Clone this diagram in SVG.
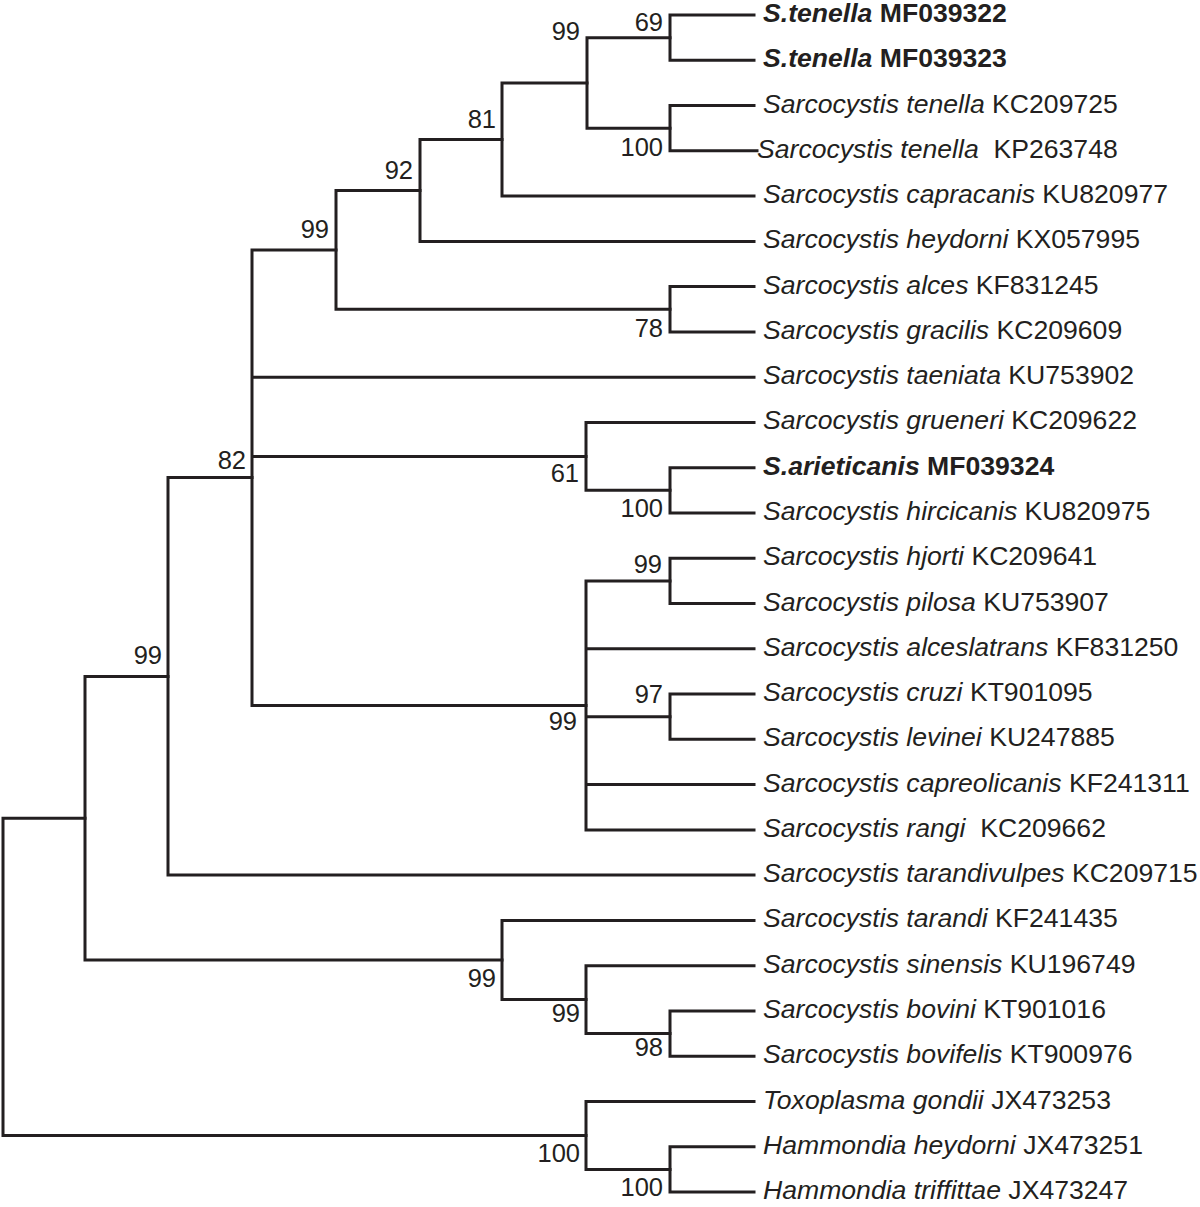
<svg xmlns="http://www.w3.org/2000/svg" width="1200" height="1207" viewBox="0 0 1200 1207">
<style>
.e{fill:none;stroke:#231f20;stroke-width:3;stroke-linecap:square;stroke-linejoin:miter}
.t{font-family:"Liberation Sans",Arial,sans-serif;font-size:26.6px;fill:#231f20}
.i{font-style:italic}
.b{font-weight:bold}
.n{font-family:"Liberation Sans",Arial,sans-serif;font-size:25.5px;fill:#231f20;text-anchor:end}
</style>
<rect width="1200" height="1207" fill="#ffffff"/>
<g id="connectors">
<path class="e" d="M754,15 H670 V60.3 H754"/>
<path class="e" d="M754,105.5 H670 V150.8 H757"/>
<path class="e" d="M670,37.7 H587 V128.2 H670"/>
<path class="e" d="M587,83 H502 V196.1 H754"/>
<path class="e" d="M502,139.5 H420 V241.4 H754"/>
<path class="e" d="M754,286.6 H670 V331.9 H754"/>
<path class="e" d="M420,190.5 H336 V309.3 H670"/>
<path class="e" d="M754,467.7 H670 V513 H754"/>
<path class="e" d="M754,422.4 H586 V490.3 H670"/>
<path class="e" d="M754,558.2 H670 V603.5 H754"/>
<path class="e" d="M754,694.1 H670 V739.3 H754"/>
<path class="e" d="M670,580.9 H586 V829.9 H754 M586,648.8 H754 M586,716.7 H670 M586,784.6 H754"/>
<path class="e" d="M336,249.9 H252 V705.4 H586 M252,377.2 H754 M252,456.4 H586"/>
<path class="e" d="M252,477.6 H168 V875.1 H754"/>
<path class="e" d="M754,1010.9 H670 V1056.2 H754"/>
<path class="e" d="M754,965.7 H586 V1033.6 H670"/>
<path class="e" d="M754,920.4 H502 V999.6 H586"/>
<path class="e" d="M168,676.4 H85 V960 H502"/>
<path class="e" d="M754,1146.8 H670 V1192 H754"/>
<path class="e" d="M754,1101.5 H586 V1169.4 H670"/>
<path class="e" d="M85,818.2 H3 V1135.4 H586"/>
</g>
<g id="support">
<text class="n" x="663" y="31">69</text>
<text class="n" x="580" y="40">99</text>
<text class="n" x="663" y="156">100</text>
<text class="n" x="496" y="128">81</text>
<text class="n" x="413" y="179">92</text>
<text class="n" x="329" y="238">99</text>
<text class="n" x="663" y="337">78</text>
<text class="n" x="246" y="469">82</text>
<text class="n" x="579" y="482">61</text>
<text class="n" x="663" y="517">100</text>
<text class="n" x="662" y="573">99</text>
<text class="n" x="663" y="703">97</text>
<text class="n" x="577" y="730">99</text>
<text class="n" x="162" y="664">99</text>
<text class="n" x="496" y="987">99</text>
<text class="n" x="580" y="1022">99</text>
<text class="n" x="663" y="1056">98</text>
<text class="n" x="580" y="1162">100</text>
<text class="n" x="663" y="1196">100</text>
</g>
<g id="leaf01"><text class="t b" x="763" y="22"><tspan class="i">S.tenella</tspan> MF039322</text></g>
<g id="leaf02"><text class="t b" x="763" y="67.3"><tspan class="i">S.tenella</tspan> MF039323</text></g>
<g id="leaf03"><text class="t" x="763" y="112.5"><tspan class="i">Sarcocystis tenella</tspan> KC209725</text></g>
<g id="leaf04"><text class="t" x="757" y="157.8" xml:space="preserve"><tspan class="i">Sarcocystis tenella</tspan>  KP263748</text></g>
<g id="leaf05"><text class="t" x="763" y="203.1"><tspan class="i">Sarcocystis capracanis</tspan> KU820977</text></g>
<g id="leaf06"><text class="t" x="763" y="248.4"><tspan class="i">Sarcocystis heydorni</tspan> KX057995</text></g>
<g id="leaf07"><text class="t" x="763" y="293.6"><tspan class="i">Sarcocystis alces</tspan> KF831245</text></g>
<g id="leaf08"><text class="t" x="763" y="338.9"><tspan class="i">Sarcocystis gracilis</tspan> KC209609</text></g>
<g id="leaf09"><text class="t" x="763" y="384.2"><tspan class="i">Sarcocystis taeniata</tspan> KU753902</text></g>
<g id="leaf10"><text class="t" x="763" y="429.4"><tspan class="i">Sarcocystis grueneri</tspan> KC209622</text></g>
<g id="leaf11"><text class="t b" x="763" y="474.7"><tspan class="i">S.arieticanis</tspan> MF039324</text></g>
<g id="leaf12"><text class="t" x="763" y="520"><tspan class="i">Sarcocystis hircicanis</tspan> KU820975</text></g>
<g id="leaf13"><text class="t" x="763" y="565.2"><tspan class="i">Sarcocystis hjorti</tspan> KC209641</text></g>
<g id="leaf14"><text class="t" x="763" y="610.5"><tspan class="i">Sarcocystis pilosa</tspan> KU753907</text></g>
<g id="leaf15"><text class="t" x="763" y="655.8"><tspan class="i">Sarcocystis alceslatrans</tspan> KF831250</text></g>
<g id="leaf16"><text class="t" x="763" y="701.1"><tspan class="i">Sarcocystis cruzi</tspan> KT901095</text></g>
<g id="leaf17"><text class="t" x="763" y="746.3"><tspan class="i">Sarcocystis levinei</tspan> KU247885</text></g>
<g id="leaf18"><text class="t" x="763" y="791.6"><tspan class="i">Sarcocystis capreolicanis</tspan> KF241311</text></g>
<g id="leaf19"><text class="t" x="763" y="836.9" xml:space="preserve"><tspan class="i">Sarcocystis rangi</tspan>  KC209662</text></g>
<g id="leaf20"><text class="t" x="763" y="882.1"><tspan class="i">Sarcocystis tarandivulpes</tspan> KC209715</text></g>
<g id="leaf21"><text class="t" x="763" y="927.4"><tspan class="i">Sarcocystis tarandi</tspan> KF241435</text></g>
<g id="leaf22"><text class="t" x="763" y="972.7"><tspan class="i">Sarcocystis sinensis</tspan> KU196749</text></g>
<g id="leaf23"><text class="t" x="763" y="1017.9"><tspan class="i">Sarcocystis bovini</tspan> KT901016</text></g>
<g id="leaf24"><text class="t" x="763" y="1063.2"><tspan class="i">Sarcocystis bovifelis</tspan> KT900976</text></g>
<g id="leaf25"><text class="t" x="763" y="1108.5"><tspan class="i">Toxoplasma gondii</tspan> JX473253</text></g>
<g id="leaf26"><text class="t" x="763" y="1153.8"><tspan class="i">Hammondia heydorni</tspan> JX473251</text></g>
<g id="leaf27"><text class="t" x="763" y="1199"><tspan class="i">Hammondia triffittae</tspan> JX473247</text></g>
</svg>
